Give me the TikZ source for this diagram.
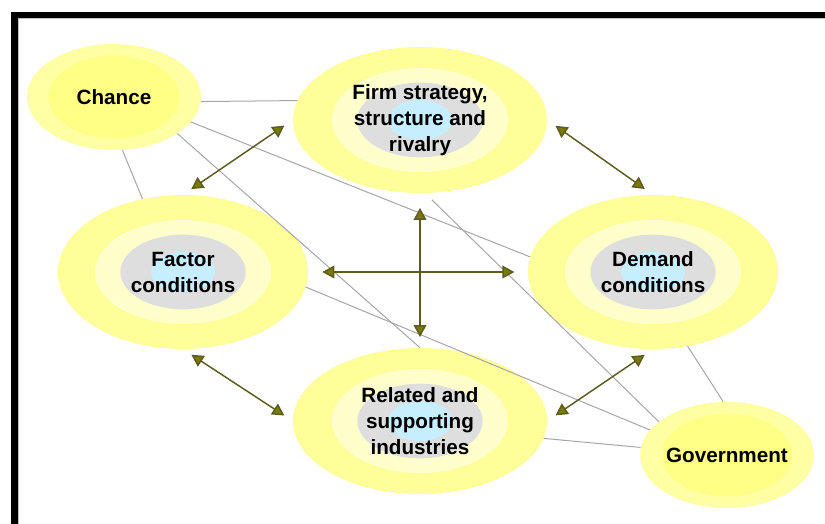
\documentclass[tikz,border=0pt]{standalone}
\usepackage{fontspec}
\setmainfont{Liberation Sans}
\usepackage{tikz}
\usetikzlibrary{shapes.geometric,arrows.meta}

\definecolor{sunOuter}{HTML}{FFFF99}
\definecolor{sunInner}{HTML}{FFFFCC}
\definecolor{coreGray}{HTML}{DEDEDE}
\definecolor{coreBlue}{HTML}{C6EEFF}
\definecolor{sideOuter}{HTML}{FFFFA3}
\definecolor{sideInner}{HTML}{FFFF85}
\definecolor{linkGray}{HTML}{A6A6A6}
\definecolor{arrowLine}{HTML}{5C5C22}
\definecolor{arrowHead}{HTML}{7A7A00}

\tikzset{
  force/.style={ellipse, fill=sunOuter, inner sep=0pt,
    minimum width=187.5pt, minimum height=115.5pt, align=center,
    font=\bfseries\fontsize{15.5}{19.5}\selectfont,
    path picture={
      \fill[sunInner] (path picture bounding box.center) ellipse [x radius=66pt, y radius=39pt];
      \fill[coreGray] (path picture bounding box.center) ellipse [x radius=47pt, y radius=28pt];
      \fill[coreBlue] (path picture bounding box.center) ellipse [x radius=24pt, y radius=15pt];}},
  outside/.style={ellipse, fill=sideOuter, inner sep=0pt,
    minimum width=130.5pt, minimum height=79.5pt,
    font=\bfseries\fontsize{15.5}{19.5}\selectfont,
    path picture={
      \fill[sideInner] (path picture bounding box.center) ellipse [x radius=49pt, y radius=31pt];}},
  link/.style={draw=linkGray, line width=0.75pt},
  twoway/.style={draw=arrowLine, line width=1.1pt,
    {Triangle[length=9pt,width=9.5pt,fill=arrowHead]}-{Triangle[length=9pt,width=9.5pt,fill=arrowHead]},
    shorten >=7.5pt, shorten <=7.5pt}
}

\begin{document}
\begin{tikzpicture}[x=0.75pt,y=0.75pt,yscale=-1,xscale=1]
\useasboundingbox (0,0) rectangle (825,524);

%Frame
\fill[black] (11,12) rectangle (825,18);
\fill[black] (11,12) rectangle (18,524);
\draw[gray!50] (18,18.5) -- (825,18.5);
\draw[gray!50] (18.5,18) -- (18.5,524);

% Four forces
\node[force, minimum width=190.5pt, minimum height=109.5pt] (firm) at (420,120) {Firm strategy,\\structure and\\rivalry};
\node[force] (factor) at (183,272) {Factor\\conditions};
\node[force] (demand) at (653,272) {Demand\\conditions};
\node[force, minimum width=190.5pt, minimum height=109.5pt] (related) at (420,421) {Related and\\supporting\\industries};

% Outside influences
\node[outside] (chance) at (114,97) {Chance};
\node[outside] (govt) at (727,455) {Government};

%Straight Lines
\draw[link] (chance.-3) -- (firm.171);
\draw[link] (chance.-18) -- (demand.173);
\draw[link] (chance.-30) -- (related.north);
\draw[link] (chance.-81) -- (factor.119);
\draw[link, shorten >=7pt] (govt.154) -- (firm.274);
\draw[link] (govt.162) -- (factor.-7);
\draw[link] (govt.175) -- (related.-8);
\draw[link] (govt.94) -- (demand.-65);

%Arrows
\draw[twoway] (factor.north) -- (firm.west);
\draw[twoway] (firm.east) -- (demand.north);
\draw[twoway] (factor.south) -- (related.west);
\draw[twoway] (related.east) -- (demand.south);
\draw[twoway, shorten <=10.5pt, shorten >=10pt] (factor.east) -- (demand.west);
\draw[twoway, shorten <=11pt, shorten >=8pt] (firm.south) -- (related.north);

\end{tikzpicture}
\end{document}
